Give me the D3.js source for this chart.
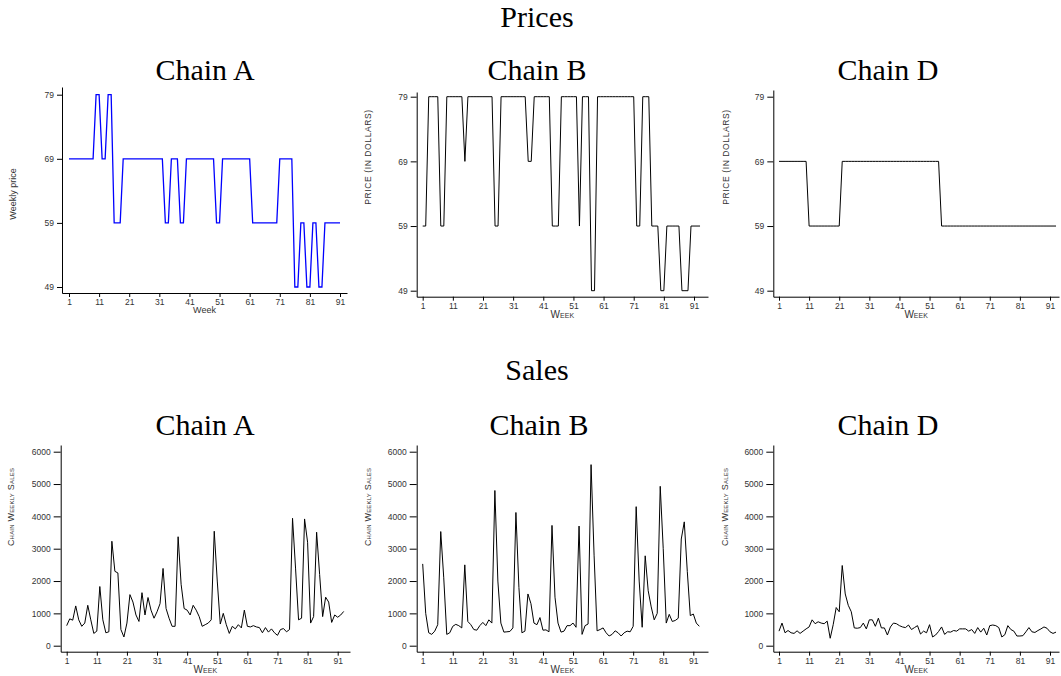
<!DOCTYPE html>
<html>
<head>
<meta charset="utf-8">
<script src="https://cdn.jsdelivr.net/npm/d3@7"></script>
<style>
  body { margin: 0; background: #fff; }
  svg { display: block; }
  .tick text { font-family: "Liberation Sans", Arial, sans-serif; fill: #333; }
  .title { font-family: "Liberation Serif", "Times New Roman", serif; fill: #000; }
  .axisText { font-family: "Liberation Sans", Arial, sans-serif; fill: #333; }
</style>
</head>
<body>
<div id="chart"></div>
<script>
// weekly prices (dollars)
let priceA = [69,69,69,69,69,69,69,69,69,79,79,69,69,79,79,59,59,59,
  69,69,69,69,69,69,69,69,69,69,69,69,69,69,59,59,69,69,69,59,59,
  69,69,69,69,69,69,69,69,69,69,59,59,69,69,69,69,69,69,69,69,69,69,
  59,59,59,59,59,59,59,59,59,69,69,69,69,69,49,49,59,59,49,49,59,59,49,49,
  59,59,59,59,59,59];
let priceB = [59,59,79,79,79,79,59,59,79,79,79,79,79,79,69,79,79,79,79,79,79,79,79,79,
  59,59,79,79,79,79,79,79,79,79,79,69,69,79,79,79,79,79,79,59,59,59,
  79,79,79,79,79,79,59,79,79,79,49,49,79,79,79,79,79,79,79,79,79,79,79,79,79,
  59,59,79,79,79,59,59,59,49,49,59,59,59,59,59,49,49,49,59,59,59,59];
let priceD = [69,69,69,69,69,69,69,69,69,69,59,59,59,59,59,59,59,59,59,59,59,
  69,69,69,69,69,69,69,69,69,69,69,69,69,69,69,69,69,69,69,69,69,69,69,69,69,69,69,69,69,69,69,69,69,
  59,59,59,59,59,59,59,59,59,59,59,59,59,59,59,59,59,59,59,59,59,59,59,59,59,59,59,59,59,59,
  59,59,59,59,59,59,59,59,59];

// chain weekly sales
let salesA = [620,830,790,1230,800,600,700,1250,800,380,
  450,1830,800,400,430,3230,2300,2250,500,270,
  700,1580,1350,950,750,1640,950,1490,1100,850,
  1050,1300,2390,1150,850,600,600,3370,1900,1150,
  1100,950,1250,1100,900,600,650,700,800,3540,
  2000,670,1000,650,380,600,520,650,550,1100,
  600,580,620,580,560,400,560,420,520,400,
  320,500,530,430,500,3940,2400,800,850,3920,
  3200,700,900,3510,2200,900,1500,1350,720,950,
  880,950,1060];
let salesB = [2530,1000,400,350,450,650,3530,2100,350,400,
  600,660,620,550,2500,750,650,500,480,620,
  720,620,800,700,4800,2000,700,420,430,440,
  550,4120,1800,400,450,1600,1300,700,650,870,
  480,490,430,3720,1500,700,420,450,620,620,
  700,570,3700,350,620,670,5600,2800,460,500,
  550,400,300,350,460,400,300,400,450,430,
  600,4300,2000,570,2780,1700,1200,800,1000,4930,
  3000,700,970,750,780,850,3300,3830,2300,930,
  980,700,600];
let salesD = [450,700,400,470,400,380,460,380,450,520,
  580,800,680,740,700,680,760,230,650,1180,
  1050,2480,1600,1250,1050,550,540,560,700,520,
  800,800,600,850,550,550,330,580,700,680,
  620,580,560,640,500,560,620,360,450,400,
  650,270,330,440,580,350,430,420,470,450,
  520,520,520,450,500,380,560,420,540,330,
  620,640,620,560,270,340,620,500,450,300,
  300,310,430,560,430,410,470,520,580,540,
  430,380,420];

let weekTicks = [1, 11, 21, 31, 41, 51, 61, 71, 81, 91];
let priceTicks = [49, 59, 69, 79];
let salesTicks = [0, 1000, 2000, 3000, 4000, 5000, 6000];

let svgWidth = 1061;
let svgHeight = 676;

let svg = d3.select("#chart")
    .append("svg")
    .attr("width", svgWidth)
    .attr("height", svgHeight);

// section titles
svg.append("text").attr("class", "title")
    .attr("x", 537).attr("y", 27).attr("text-anchor", "middle")
    .style("font-size", "30px").text("Prices");
svg.append("text").attr("class", "title")
    .attr("x", 537).attr("y", 380).attr("text-anchor", "middle")
    .style("font-size", "30px").text("Sales");

function drawPanel(p) {
    // x: week -> pixels, from positions of week 1 and week 91
    let xScale = d3.scaleLinear().domain([1, 91]).range([p.x1, p.x91]);
    xScale = xScale.copy().domain([xScale.invert(p.left), xScale.invert(p.right)]).range([p.left, p.right]);

    let yScale = d3.scaleLinear().domain(p.yDomain).range([p.yBottom, p.yTop]);
    yScale = yScale.copy().domain([yScale.invert(p.axisY), yScale.invert(p.axisTop)]).range([p.axisY, p.axisTop]);

    let g = svg.append("g");

    // title
    g.append("text").attr("class", "title")
        .attr("x", p.titleX).attr("y", p.titleY)
        .attr("text-anchor", "middle")
        .style("font-size", "30px")
        .text(p.title);

    let bottomAxis = d3.axisBottom(xScale)
        .tickValues(weekTicks).tickSize(4).tickPadding(2).tickSizeOuter(0)
        .tickFormat(d3.format("d"));
    let leftAxis = d3.axisLeft(yScale)
        .tickValues(p.yTicks).tickSize(p.yTickSize).tickPadding(3).tickSizeOuter(0)
        .tickFormat(d3.format("d"));

    let gx = g.append("g")
        .attr("transform", `translate(0, ${p.axisY})`)
        .call(bottomAxis);
    gx.selectAll("text").style("font-size", "8.5px");

    let gy = g.append("g")
        .attr("transform", `translate(${p.left}, 0)`)
        .call(leftAxis);
    gy.selectAll("text").style("font-size", "8.5px");

    g.selectAll(".domain, .tick line").attr("stroke", "#000").attr("stroke-width", 1);

    // the series
    let line = d3.line()
        .x((d, i) => xScale(i + 1))
        .y(d => yScale(d));

    g.append("path")
        .datum(p.data)
        .attr("fill", "none")
        .attr("stroke", p.color)
        .attr("stroke-width", p.width)
        .attr("d", line);

    // y axis label
    g.append("text").attr("class", "axisText")
        .attr("transform", `translate(${p.ylabX}, ${p.ylabY}) rotate(-90)`)
        .attr("text-anchor", "middle")
        .style("font-size", p.ylabSize + "px")
        .style("letter-spacing", p.ylabSpacing + "px")
        .style("font-variant", p.smallCaps ? "small-caps" : "normal")
        .text(p.ylab);

    // x axis label
    g.append("text").attr("class", "axisText")
        .attr("x", (p.left + p.right) / 2)
        .attr("y", p.axisY + p.xlabDy)
        .attr("text-anchor", "middle")
        .style("font-size", p.smallCaps ? "10px" : "9px")
        .style("font-variant", p.smallCaps ? "small-caps" : "normal")
        .text("Week");
}

// price panels
drawPanel({title: "Chain A", titleX: 205, titleY: 80, data: priceA, color: "#0000ff", width: 1.3,
    left: 62, right: 347, x1: 69, x91: 340, yDomain: [49, 79], yBottom: 287, yTop: 94.7,
    axisY: 293, axisTop: 87, yTicks: priceTicks, yTickSize: 5,
    ylab: "Weekly price", ylabX: 16, ylabY: 194, ylabSize: 9, ylabSpacing: 0,
    xlabDy: 20, smallCaps: false});
drawPanel({title: "Chain B", titleX: 537, titleY: 80, data: priceB, color: "#000", width: 1,
    left: 416.7, right: 708, x1: 422.7, x91: 694, yDomain: [49, 79], yBottom: 290.7, yTop: 96.7,
    axisY: 296.7, axisTop: 92, yTicks: priceTicks, yTickSize: 6,
    ylab: "PRICE (IN DOLLARS)", ylabX: 371, ylabY: 157, ylabSize: 8.5, ylabSpacing: 0.6,
    xlabDy: 21, smallCaps: true});
drawPanel({title: "Chain D", titleX: 888, titleY: 80, data: priceD, color: "#000", width: 1,
    left: 773.3, right: 1059, x1: 779, x91: 1050, yDomain: [49, 79], yBottom: 290.7, yTop: 96.7,
    axisY: 296.7, axisTop: 90, yTicks: priceTicks, yTickSize: 6,
    ylab: "PRICE (IN DOLLARS)", ylabX: 729, ylabY: 157, ylabSize: 8.5, ylabSpacing: 0.6,
    xlabDy: 21, smallCaps: true});

// sales panels
drawPanel({title: "Chain A", titleX: 205, titleY: 435, data: salesA, color: "#000", width: 1,
    left: 60.7, right: 350, x1: 66.7, x91: 337.7, yDomain: [0, 6000], yBottom: 645.7, yTop: 451.7,
    axisY: 651.7, axisTop: 445, yTicks: salesTicks, yTickSize: 7,
    ylab: "Chain Weekly Sales", ylabX: 14, ylabY: 507, ylabSize: 9, ylabSpacing: 0.2,
    xlabDy: 21, smallCaps: true});
drawPanel({title: "Chain B", titleX: 539, titleY: 435, data: salesB, color: "#000", width: 1,
    left: 416.7, right: 708, x1: 422.7, x91: 693.3, yDomain: [0, 6000], yBottom: 645.7, yTop: 451.7,
    axisY: 651.7, axisTop: 445, yTicks: salesTicks, yTickSize: 7,
    ylab: "Chain Weekly Sales", ylabX: 371, ylabY: 507, ylabSize: 9, ylabSpacing: 0.2,
    xlabDy: 21, smallCaps: true});
drawPanel({title: "Chain D", titleX: 888, titleY: 435, data: salesD, color: "#000", width: 1,
    left: 773.3, right: 1059, x1: 779, x91: 1050, yDomain: [0, 6000], yBottom: 645.7, yTop: 451.7,
    axisY: 651.7, axisTop: 445, yTicks: salesTicks, yTickSize: 7,
    ylab: "Chain Weekly Sales", ylabX: 728, ylabY: 507, ylabSize: 9, ylabSpacing: 0.2,
    xlabDy: 21, smallCaps: true});
</script>
</body>
</html>
